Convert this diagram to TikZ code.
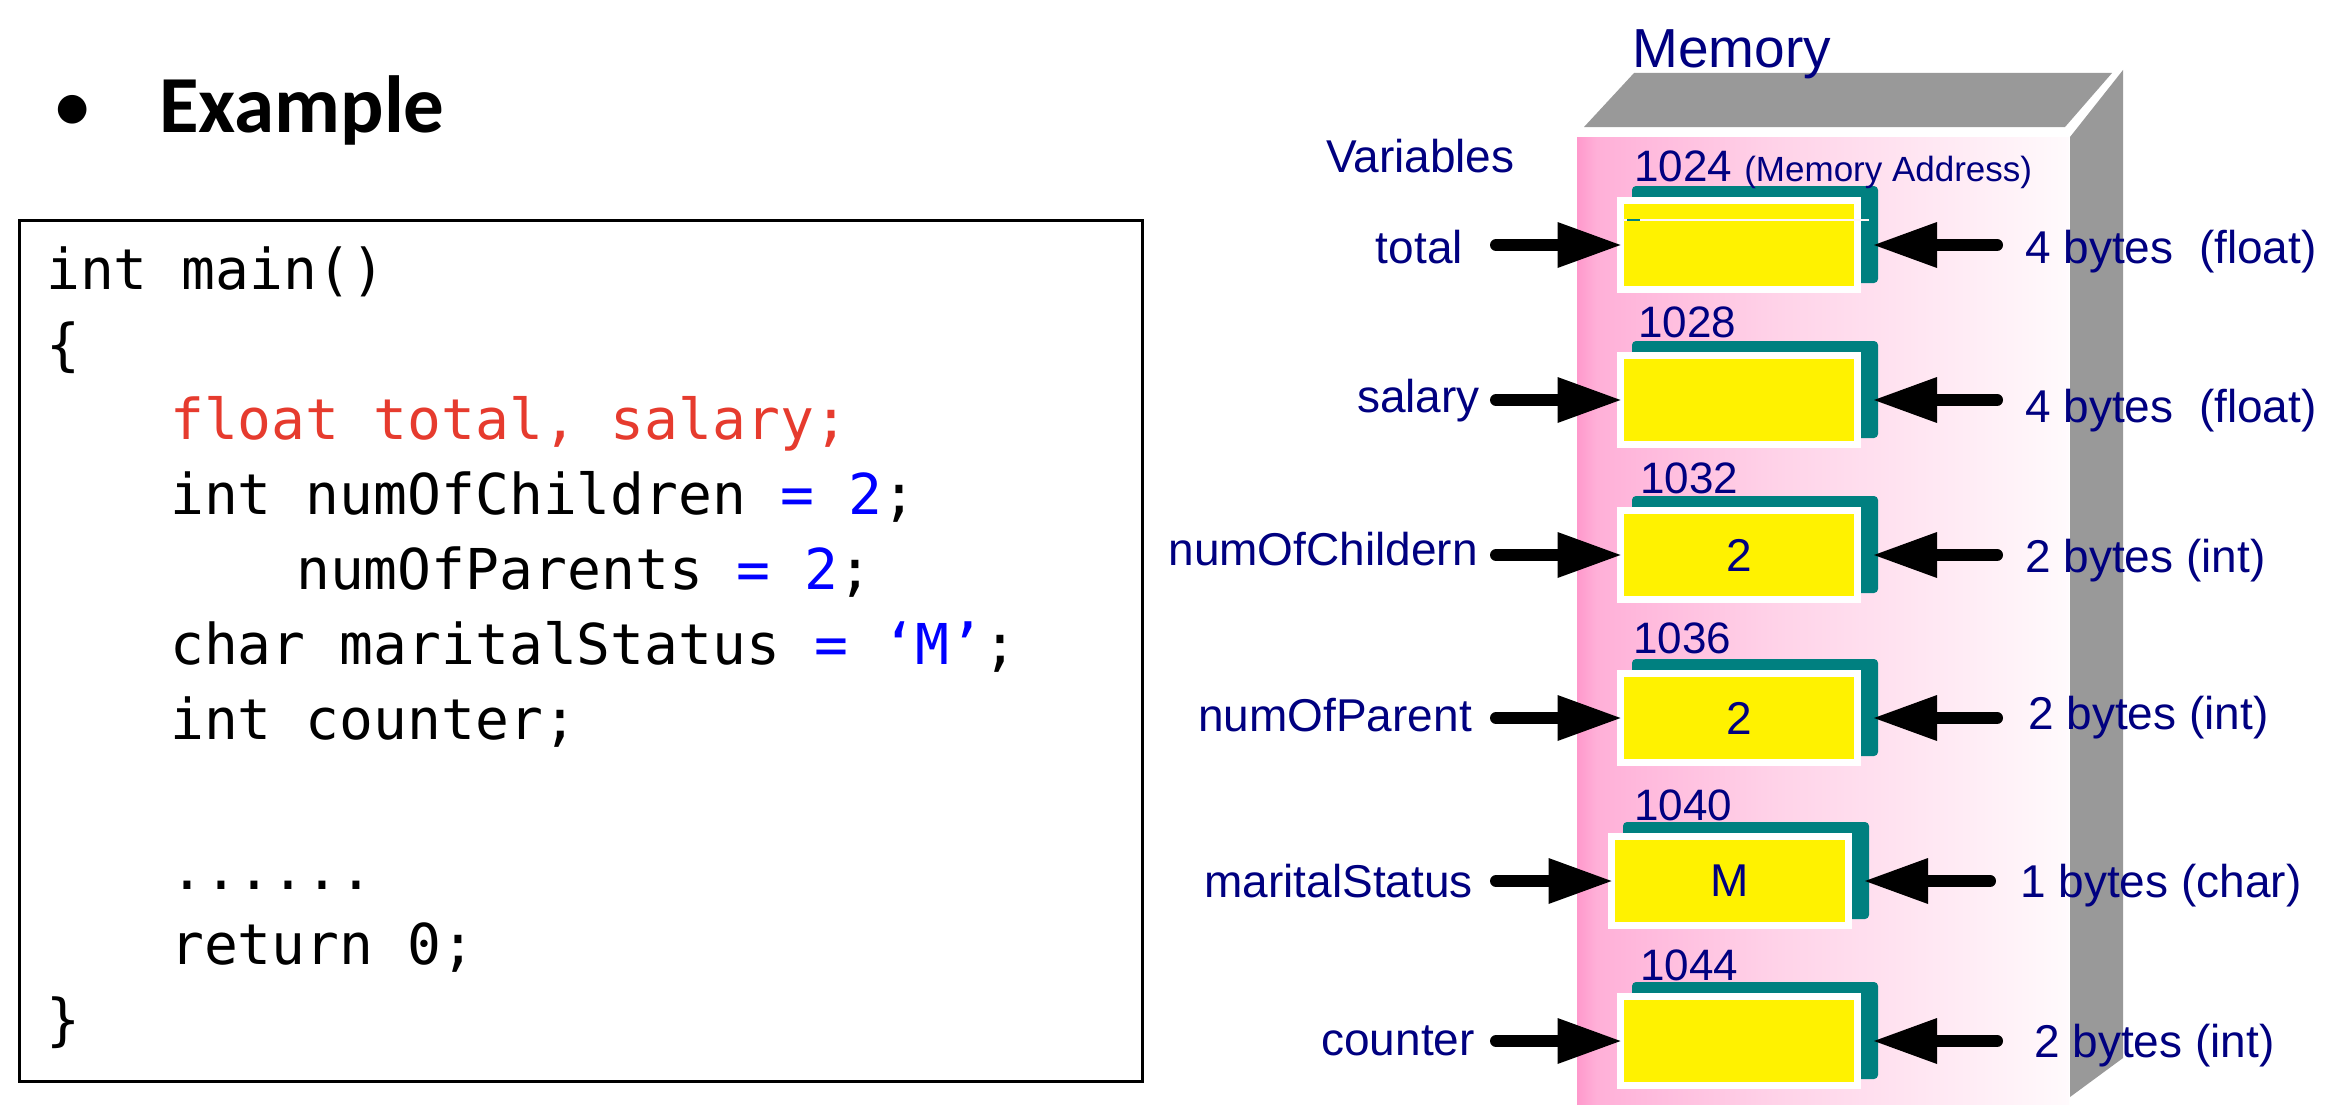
\documentclass[tikz,border=0pt]{standalone}
\usepackage{fontspec}
\usetikzlibrary{arrows.meta}
\newfontfamily\arl{Liberation Sans}
\newfontfamily\calfont{Carlito}
\newfontfamily\monofont{DejaVu Sans Mono}
\definecolor{navy}{HTML}{000080}
\definecolor{tealc}{HTML}{008080}
\definecolor{grayc}{HTML}{999999}
\definecolor{codered}{HTML}{E63B2E}
\definecolor{codeblue}{HTML}{0000FF}
\definecolor{pkA}{HTML}{FF99CC}
\definecolor{pkB}{HTML}{FFB0D8}
\definecolor{pkC}{HTML}{FFD2E8}
\definecolor{pkD}{HTML}{FFFAFC}
\pgfdeclarehorizontalshading{memgrad}{100bp}{color(0bp)=(pkA); color(25bp)=(pkA); color(27bp)=(pkB); color(45bp)=(pkC); color(75bp)=(pkD); color(100bp)=(pkD)}
\tikzset{
  lbl/.style={font=\arl\fontsize{46}{55}\selectfont, text=navy, inner sep=0pt},
  addr/.style={font=\arl\fontsize{44}{50}\selectfont, text=navy, inner sep=0pt, anchor=base west},
  cell/.style={draw=white, line width=7pt, fill=yellow, minimum width=237pt, minimum height=89pt,
    inner sep=0pt, outer sep=0pt, font=\arl\fontsize{46}{55}\selectfont, text=navy},
  arr/.style={line width=12pt, line cap=round, -{Triangle[length=63pt,width=46pt,line width=0pt]}},
  codeln/.style={font=\monofont\fontsize{56.3}{75}\selectfont, anchor=base west, inner sep=0pt},
}
\begin{document}
\begin{tikzpicture}[x=1pt,y=-1pt]
\useasboundingbox (0,0) rectangle (2326,1116);
\fill[white] (0,0) rectangle (2326,1116);

% ---------- left: example and code ----------
\node[font=\calfont\fontsize{81}{90}\selectfont, anchor=base, inner sep=0pt] (bul) at (73,132) {•};
\node[font=\calfont\bfseries\fontsize{81}{90}\selectfont, anchor=base west, inner sep=0pt] (ex) at (159,132) {Example};
\node[draw, line width=3pt, minimum width=1123pt, minimum height=861pt, anchor=north west, inner sep=0pt] (codebox) at (18,219) {};

\node[codeln] (l1) at (46,289) {int main()};
\node[codeln] (l2) at (46,364) {\{};
\node[codeln, text=codered] (l3) at (170,439) {float total, salary;};
\node[codeln] (l4) at (170,514) {int numOfChildren {\color{codeblue}= 2};};
\node[codeln] (l5) at (296,589) {numOfParents {\color{codeblue}= 2};};
\node[codeln] (l6) at (170,664) {char maritalStatus {\color{codeblue}= ‘M’};};
\node[codeln] (l7) at (170,739) {int counter;};
\node[codeln] (l8) at (170,889) {......};
\node[codeln] (l9) at (170,964) {return 0;};
\node[codeln] (l10) at (46,1039) {\}};

% ---------- right: memory block ----------
\fill[grayc] (1584,127) -- (1634,73) -- (2112,73) -- (2065,127) -- cycle;
\fill[grayc] (2070,137) -- (2123,70) -- (2123,1058) -- (2070,1097) -- cycle;
\shade[shading=memgrad] (1577,137) rectangle (2069,1104);

\node[font=\arl\fontsize{55}{60}\selectfont, text=navy, inner sep=0pt, anchor=base west] (mem) at (1632,67) {Memory};
\node[lbl, anchor=base west] (vars) at (1326,172) {Variables};

% teal shadows
\foreach \cx/\cy in {1739/245, 1739/400, 1739/555, 1739/718, 1730/881, 1739/1041}
  \fill[tealc, rounded corners=4pt] (\cx-107,\cy-59) rectangle (\cx+139,\cy+38);

% cells
\node[cell] (b1) at (1739,245) {};
\node[cell] (b2) at (1739,400) {};
\node[cell] (b3) at (1739,555) {2};
\node[cell] (b4) at (1739,718) {2};
\node[cell] (b5) at (1730,881) {M};
\node[cell] (b6) at (1739,1041) {};
\draw[white!85!pink, line width=1.5pt] (1623,220) -- (1869,220);
\draw[tealc, line width=2pt] (1627,220) -- (1640,220);

% addresses
\node[addr] (a1) at (1634,181) {1024 {\fontsize{35}{40}\selectfont(Memory Address)}};
\node[addr] (a2) at (1638,337) {1028};
\node[addr] (a3) at (1640,493) {1032};
\node[addr] (a4) at (1633,653) {1036};
\node[addr] (a5) at (1634,820) {1040};
\node[addr] (a6) at (1640,980) {1044};

% variable names
\node[lbl, anchor=base east] (v1) at (1463,263) {total};
\node[lbl, anchor=base east] (v2) at (1480,412) {salary};
\node[lbl, anchor=base east] (v3) at (1478,565) {numOfChildern};
\node[lbl, anchor=base east] (v4) at (1472,731) {numOfParent};
\node[lbl, anchor=base east] (v5) at (1473,897) {maritalStatus};
\node[lbl, anchor=base east] (v6) at (1475,1055) {counter};

% sizes
\node[lbl, anchor=base west] (s1) at (2025,263) {4 bytes\ \ (float)};
\node[lbl, anchor=base west] (s2) at (2025,422) {4 bytes\ \ (float)};
\node[lbl, anchor=base west] (s3) at (2025,572) {2 bytes (int)};
\node[lbl, anchor=base west] (s4) at (2028,729) {2 bytes (int)};
\node[lbl, anchor=base west] (s5) at (2020,897) {1 bytes (char)};
\node[lbl, anchor=base west] (s6) at (2034,1057) {2 bytes (int)};

% arrow tails
\coordinate (lt1) at (1496,245);
\coordinate (lt2) at (1496,400);
\coordinate (lt3) at (1496,555);
\coordinate (lt4) at (1496,718);
\coordinate (lt5) at (1496,881);
\coordinate (lt6) at (1496,1041);
\coordinate (rt1) at (1997,245);
\coordinate (rt2) at (1997,400);
\coordinate (rt3) at (1997,555);
\coordinate (rt4) at (1997,718);
\coordinate (rt5) at (1990,881);
\coordinate (rt6) at (1997,1041);

\foreach \i in {1,...,6}{
  \draw[arr] (lt\i) -- (b\i.west);
  \draw[arr] (rt\i) -- ([xshift=16.5pt]b\i.east);
}
\end{tikzpicture}
\end{document}
